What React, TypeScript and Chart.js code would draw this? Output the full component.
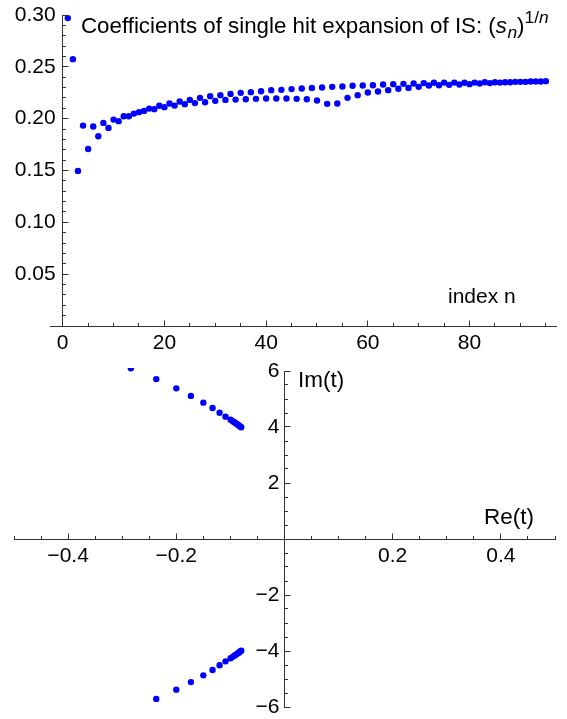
import React, { useEffect, useRef } from 'react';
import { Chart, registerables } from 'chart.js';

Chart.register(...registerables);

// ---------------- data ----------------
// coefficients (s_n)^(1/n), n = 1..95
const COEFFICIENTS = [
  0.297, 0.2574, 0.1496, 0.1933, 0.1708, 0.1924, 0.1831, 0.1959, 0.1911, 0.1991,
  0.1976, 0.2024, 0.2024, 0.2049, 0.2063, 0.2075, 0.2097, 0.2092, 0.2124, 0.2111,
  0.2146, 0.2126, 0.2165, 0.214, 0.2181, 0.215, 0.2201, 0.2159, 0.2217, 0.2172,
  0.2227, 0.2181, 0.2239, 0.2184, 0.2249, 0.2188, 0.2256, 0.2191, 0.2265, 0.2194,
  0.2275, 0.2194, 0.2278, 0.2194, 0.2285, 0.2191, 0.2291, 0.2188, 0.2297, 0.2175,
  0.23, 0.2143, 0.2307, 0.2146, 0.231, 0.2201, 0.2317, 0.2227, 0.232, 0.2252,
  0.2323, 0.2262, 0.2329, 0.2275, 0.2333, 0.2288, 0.2336, 0.2297, 0.2339, 0.2307,
  0.2343, 0.232, 0.2346, 0.2323, 0.2348, 0.2326, 0.2348, 0.233, 0.2346, 0.2333,
  0.2348, 0.2339, 0.2352, 0.2343, 0.2352, 0.2348, 0.2352, 0.2352, 0.2355, 0.2355,
  0.2355, 0.2358, 0.2358, 0.2358, 0.2362,
];
const INDEX_N = COEFFICIENTS.map((_, i) => i + 1);

// singularities t in the complex plane
const ROOT_RE_UPPER = [-0.284, -0.237, -0.2, -0.173, -0.15, -0.133, -0.12, -0.109, -0.0996, -0.095, -0.092, -0.089, -0.086, -0.084, -0.082, -0.08];
const ROOT_IM_UPPER = [6.1, 5.71, 5.38, 5.11, 4.87, 4.68, 4.51, 4.37, 4.26, 4.2, 4.16, 4.12, 4.08, 4.05, 4.02, 3.99];
const ROOT_RE_LOWER = [-0.284, -0.237, -0.2, -0.173, -0.15, -0.133, -0.12, -0.109, -0.0996, -0.095, -0.092, -0.089, -0.086, -0.084, -0.082, -0.08];
const ROOT_IM_LOWER = [-6.14, -5.71, -5.38, -5.11, -4.87, -4.68, -4.51, -4.37, -4.26, -4.2, -4.16, -4.12, -4.08, -4.05, -4.02, -3.99];

const TOP_X_TICKS = [0, 20, 40, 60, 80];
const TOP_Y_TICKS = [0.05, 0.1, 0.15, 0.2, 0.25, 0.3];
const BOTTOM_X_TICKS = [-0.4, -0.2, 0.2, 0.4];
const BOTTOM_Y_TICKS = [-6, -4, -2, 2, 4, 6];

const TITLE_MAIN = 'Coefficients of single hit expansion of IS: (';
const TOP_X_LABEL = 'index n';
const BOTTOM_X_LABEL = 'Re(t)';
const BOTTOM_Y_LABEL = 'Im(t)';

// ---------------- styles ----------------
const FONT = "'Liberation Sans', Arial, Helvetica, sans-serif";
const AXIS_COLOR = '#333';
const DOT = 'rgb(0,0,255)';
const TICK_FONT_SIZE = 21;

const minus = (v: number) => (v < 0 ? '\u2212' : '');

function stepValues(min: number, max: number, step: number) {
  const out: number[] = [];
  const k0 = Math.ceil(min / step - 1e-9);
  const k1 = Math.floor(max / step + 1e-9);
  for (let k = k0; k <= k1; k++) out.push(+(k * step).toFixed(6));
  return out;
}

function tickMarksPlugin(cfg: { xMajor: number; xMinor: number; yMajor: number; yMinor: number }) {
  return {
    id: 'tickMarks',
    afterDatasetsDraw(chart: any) {
      const { ctx } = chart;
      const xs = chart.scales.x;
      const ys = chart.scales.y;
      const ay = Math.round(ys.getPixelForValue(0) - 0.5) + 0.5;
      const ax = Math.round(xs.getPixelForValue(0) - 0.5) + 0.5;
      ctx.save();
      ctx.strokeStyle = AXIS_COLOR;
      ctx.lineWidth = 1;
      ctx.beginPath();
      for (const v of stepValues(xs.min, xs.max, cfg.xMinor)) {
        const isMajor = Math.abs(v / cfg.xMajor - Math.round(v / cfg.xMajor)) < 1e-6;
        const len = isMajor ? 6 : 3.5;
        const px = Math.round(xs.getPixelForValue(v) - 0.5) + 0.5;
        ctx.moveTo(px, ay);
        ctx.lineTo(px, ay - len);
      }
      for (const v of stepValues(ys.min, ys.max, cfg.yMinor)) {
        const isMajor = Math.abs(v / cfg.yMajor - Math.round(v / cfg.yMajor)) < 1e-6;
        const len = isMajor ? 6 : 3.5;
        const py = Math.round(ys.getPixelForValue(v) - 0.5) + 0.5;
        ctx.moveTo(ax, py);
        ctx.lineTo(ax + len, py);
      }
      ctx.stroke();
      ctx.restore();
    },
  };
}

function textPlugin(draw: (ctx: CanvasRenderingContext2D, chart: any) => void) {
  return {
    id: 'extraText',
    afterDraw(chart: any) {
      const ctx = chart.ctx as CanvasRenderingContext2D;
      ctx.save();
      ctx.fillStyle = '#000';
      draw(ctx, chart);
      ctx.restore();
    },
  };
}

// labelShift: horizontal gap between a vertical axis line and its right-aligned labels
function axisScale(min: number, max: number, crossAt: any, ticks: number[], fmt: (v: number) => string, padding: number, labelShift = 0) {
  return {
    type: 'linear',
    min,
    max,
    bounds: 'data',
    position: crossAt,
    grid: { display: false, drawTicks: false },
    border: { display: true, color: AXIS_COLOR, width: 1 },
    ticks: {
      padding,
      autoSkip: false,
      maxRotation: 0,
      minRotation: 0,
      color: '#000',
      font: { family: FONT, size: TICK_FONT_SIZE },
      callback: (v: any) => fmt(Number(v)),
    },
    afterBuildTicks: (s: any) => {
      s.ticks = ticks.map((v) => ({ value: v }));
    },
    afterFit: (s: any) => {
      s.paddingLeft = 0;
      s.paddingRight = 0;
      s.paddingTop = 0;
      s.paddingBottom = 0;
      if (labelShift && !s.__shiftPatched) {
        const orig = s._computeLabelItems;
        s._computeLabelItems = function (ca: any) {
          const items = orig.call(this, ca);
          for (const it of items) {
            if (it.options && it.options.translation) it.options.translation[0] -= labelShift;
          }
          return items;
        };
        s.__shiftPatched = true;
      }
    },
  };
}

export default function App() {
  const topRef = useRef<HTMLCanvasElement>(null);
  const botRef = useRef<HTMLCanvasElement>(null);

  useEffect(() => {
    Chart.defaults.font.family = FONT;
    Chart.defaults.font.size = TICK_FONT_SIZE;
    Chart.defaults.color = '#000';

    const common = {
      animation: false,
      responsive: false,
      events: [],
      plugins: { legend: { display: false }, tooltip: { enabled: false }, title: { display: false } },
    };

    const top = new Chart(topRef.current as HTMLCanvasElement, {
      type: 'scatter',
      data: {
        datasets: [
          {
            data: INDEX_N.map((n, i) => ({ x: n, y: COEFFICIENTS[i] })),
            pointRadius: 3.2,
            pointHoverRadius: 3.2,
            pointBackgroundColor: DOT,
            pointBorderWidth: 0,
            borderWidth: 0,
            clip: false,
          } as any,
        ],
      },
      options: {
        ...common,
        layout: { padding: { left: 50, right: 11, top: 15, bottom: 29 } },
        scales: {
          x: axisScale(-2.5, 97, { y: 0 }, TOP_X_TICKS, (v) => String(v), 5),
          y: axisScale(0, 0.3, { x: 0 }, TOP_Y_TICKS, (v) => v.toFixed(2), 0, 7),
        },
      } as any,
      plugins: [
        tickMarksPlugin({ xMajor: 20, xMinor: 5, yMajor: 0.05, yMinor: 0.01 }),
        textPlugin((ctx) => {
          const size = 22.3;
          const small = size * 0.78;
          const baseY = 33;
          let cx = 81;
          const parts = [
            { t: TITLE_MAIN, style: '', s: size, dy: 0 },
            { t: 's', style: 'italic ', s: size, dy: 0 },
            { t: 'n', style: 'italic ', s: small, dy: size * 0.24 },
            { t: ')', style: '', s: size, dy: 0 },
            { t: '1/', style: '', s: small, dy: -size * 0.44 },
            { t: 'n', style: 'italic ', s: small, dy: -size * 0.44 },
          ];
          ctx.textBaseline = 'alphabetic';
          ctx.textAlign = 'left';
          for (const p of parts) {
            ctx.font = `${p.style}${p.s}px ${FONT}`;
            ctx.fillText(p.t, cx, baseY + p.dy);
            cx += ctx.measureText(p.t).width + (p.t === 's' ? 0.5 : 0);
          }
          ctx.font = `${TICK_FONT_SIZE}px ${FONT}`;
          ctx.textBaseline = 'middle';
          ctx.fillText(TOP_X_LABEL, 448, 297);
        }),
      ],
    });

    const bottom = new Chart(botRef.current as HTMLCanvasElement, {
      type: 'scatter',
      data: {
        datasets: [
          {
            data: ROOT_RE_UPPER.map((x, i) => ({ x, y: ROOT_IM_UPPER[i] })),
            pointRadius: 3.2,
            pointHoverRadius: 3.2,
            pointBackgroundColor: DOT,
            pointBorderWidth: 0,
            borderWidth: 0,
            clip: { left: 0, top: 3, right: 0, bottom: 0 },
          } as any,
          {
            data: ROOT_RE_LOWER.map((x, i) => ({ x, y: ROOT_IM_LOWER[i] })),
            pointRadius: 3.2,
            pointHoverRadius: 3.2,
            pointBackgroundColor: DOT,
            pointBorderWidth: 0,
            borderWidth: 0,
            clip: { left: 0, top: 3, right: 0, bottom: 0 },
          } as any,
        ],
      },
      options: {
        ...common,
        layout: { padding: { left: 14, right: 12, top: 16, bottom: 12 } },
        scales: {
          x: axisScale(-0.5, 0.5, { y: 0 }, BOTTOM_X_TICKS, (v) => minus(v) + Math.abs(v).toFixed(1), 5),
          y: axisScale(-6, 6, { x: 0 }, BOTTOM_Y_TICKS, (v) => minus(v) + String(Math.abs(v)), 0, 5),
        },
      } as any,
      plugins: [
        tickMarksPlugin({ xMajor: 0.2, xMinor: 0.05, yMajor: 2, yMinor: 0.5 }),
        textPlugin((ctx) => {
          ctx.font = `22.5px ${FONT}`;
          ctx.textBaseline = 'middle';
          ctx.textAlign = 'left';
          ctx.fillText(BOTTOM_X_LABEL, 484, 163);
          ctx.fillText(BOTTOM_Y_LABEL, 298, 26);
        }),
      ],
    });

    return () => {
      top.destroy();
      bottom.destroy();
    };
  }, []);

  return (
    <div style={{ position: 'absolute', left: 0, top: 0, width: 567, height: 719, background: '#fff' }}>
      <canvas ref={topRef} width={567} height={355} style={{ position: 'absolute', left: 0, top: 0, width: 567, height: 355 }} />
      <canvas ref={botRef} width={567} height={364} style={{ position: 'absolute', left: 0, top: 355, width: 567, height: 364 }} />
    </div>
  );
}
